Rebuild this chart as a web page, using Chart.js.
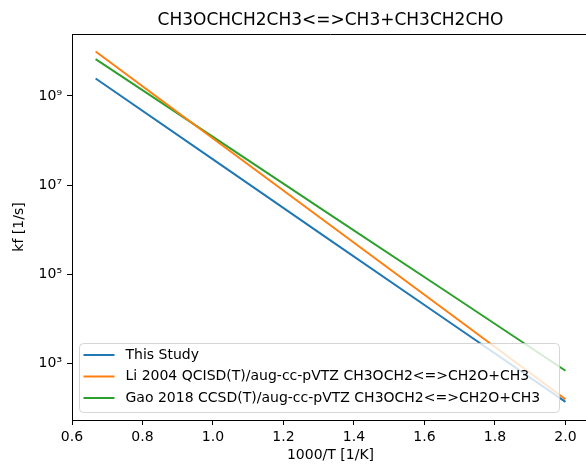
<!DOCTYPE html>
<html>
<head>
<meta charset="utf-8">
<script src="https://cdn.jsdelivr.net/npm/chart.js@4.4.1/dist/chart.umd.min.js"></script>
<style>
  body { margin: 0; background: #fff; }
  #wrap { width: 586px; height: 466px; overflow: hidden; }
</style>
</head>
<body>
<div id="wrap"><canvas id="kfChart" width="600" height="466"></canvas></div>
<script>
const invT = [0.667, 1.0, 1.333, 1.667, 2.0];

// kf [1/s] for each study
const kThisStudy = [2.47e9, 3.80e7, 5.83e5, 8.97e3, 140];
const kLi2004 = [9.90e9, 1.12e8, 1.27e6, 1.43e4, 161];
const kGao2018 = [6.68e9, 1.21e8, 2.17e6, 3.90e4, 697];

const seriesLabels = [
	'This Study',
	'Li 2004 QCISD(T)/aug-cc-pVTZ CH3OCH2<=>CH2O+CH3',
	'Gao 2018 CCSD(T)/aug-cc-pVTZ CH3OCH2<=>CH2O+CH3'
];
const seriesColors = ['#1f77b4', '#ff7f0e', '#2ca02c'];

const xTicks = [0.6, 0.8, 1.0, 1.2, 1.4, 1.6, 1.8, 2.0];
const yTicks = [1e3, 1e5, 1e7, 1e9];
const yTickLabels = ['10³', '10⁵', '10⁷', '10⁹'];

Chart.defaults.font.family = '"DejaVu Sans", sans-serif';
Chart.defaults.color = '#000';

function toPoints(arr) {
	return invT.map((x, i) => ({ x: x, y: arr[i] }));
}

// top spine + legend box inside the axes (lower left), matplotlib style
const frameAndLegend = {
	id: 'frameAndLegend',
	afterDraw(chart) {
		const ctx = chart.ctx;
		const area = chart.chartArea;
		ctx.save();
		ctx.strokeStyle = '#000';
		ctx.lineWidth = 1;
		ctx.beginPath();
		ctx.moveTo(area.left, area.top + 0.5);
		ctx.lineTo(area.right, area.top + 0.5);
		ctx.stroke();

		// legend
		const bx = area.left + 7.5, by = 343.5, bw = 480, bh = 69, r = 4;
		ctx.beginPath();
		ctx.moveTo(bx + r, by);
		ctx.lineTo(bx + bw - r, by);
		ctx.quadraticCurveTo(bx + bw, by, bx + bw, by + r);
		ctx.lineTo(bx + bw, by + bh - r);
		ctx.quadraticCurveTo(bx + bw, by + bh, bx + bw - r, by + bh);
		ctx.lineTo(bx + r, by + bh);
		ctx.quadraticCurveTo(bx, by + bh, bx, by + bh - r);
		ctx.lineTo(bx, by + r);
		ctx.quadraticCurveTo(bx, by, bx + r, by);
		ctx.closePath();
		ctx.fillStyle = 'rgba(255,255,255,0.8)';
		ctx.fill();
		ctx.strokeStyle = 'rgba(204,204,204,0.8)';
		ctx.stroke();

		ctx.font = '14px "DejaVu Sans"';
		ctx.textBaseline = 'middle';
		ctx.textAlign = 'left';
		chart.data.datasets.forEach((ds, i) => {
			const y = 355 + i * 21.5;
			ctx.strokeStyle = ds.borderColor;
			ctx.lineWidth = 2;
			ctx.beginPath();
			ctx.moveTo(bx + 4, y);
			ctx.lineTo(bx + 35, y);
			ctx.stroke();
			ctx.fillStyle = '#000';
			ctx.fillText(ds.label, bx + 46, y);
		});
		ctx.restore();
	}
};

const ctx = document.getElementById('kfChart').getContext('2d');
const kfChart = new Chart(ctx, {
	type: 'line',
	data: {
		datasets: [kThisStudy, kLi2004, kGao2018].map((arr, i) => ({
			label: seriesLabels[i],
			data: toPoints(arr),
			borderColor: seriesColors[i],
			backgroundColor: seriesColors[i],
			borderWidth: 2,
			pointRadius: 0,
			tension: 0,
			fill: false
		}))
	},
	options: {
		responsive: false,
		animation: false,
		layout: { padding: { left: 0, right: 11, top: 0, bottom: 0 } },
		plugins: {
			legend: { display: false },
			tooltip: { enabled: false },
			title: {
				display: true,
				text: 'CH3OCHCH2CH3<=>CH3+CH3CH2CHO',
				fullSize: false,
				color: '#000',
				font: { size: 17, weight: 'normal' },
				padding: { top: 10, bottom: 3.6 }
			}
		},
		scales: {
			x: {
				type: 'linear',
				min: 0.6,
				max: 2.0667,
				afterFit: s => { s.height = 46; },
				afterBuildTicks: s => { s.ticks = xTicks.map(v => ({ value: v })); },
				grid: { display: true, drawOnChartArea: false, tickLength: 5, tickColor: '#000' },
				border: { display: true, color: '#000', width: 1 },
				ticks: {
					font: { size: 14 },
					color: '#000',
					padding: 3.6,
					maxRotation: 0,
					callback: v => Number(v).toFixed(1)
				},
				title: {
					display: true,
					text: '1000/T [1/K]',
					font: { size: 14 },
					color: '#000',
					padding: { top: 0, bottom: 2.6 }
				}
			},
			y: {
				type: 'logarithmic',
				min: 55,
				max: 2.45e10,
				afterFit: s => { s.width = 72; },
				afterBuildTicks: s => { s.ticks = yTicks.map(v => ({ value: v })); },
				grid: { display: true, drawOnChartArea: false, tickLength: 5, tickColor: '#000' },
				border: { display: true, color: '#000', width: 1 },
				ticks: {
					font: { size: 14 },
					color: '#000',
					padding: 5,
					callback: v => yTickLabels[yTicks.indexOf(v)] || ''
				},
				title: {
					display: true,
					text: 'kf [1/s]',
					font: { size: 14 },
					color: '#000',
					padding: { top: 11, bottom: 0 }
				}
			}
		}
	},
	plugins: [frameAndLegend]
});
</script>
</body>
</html>
